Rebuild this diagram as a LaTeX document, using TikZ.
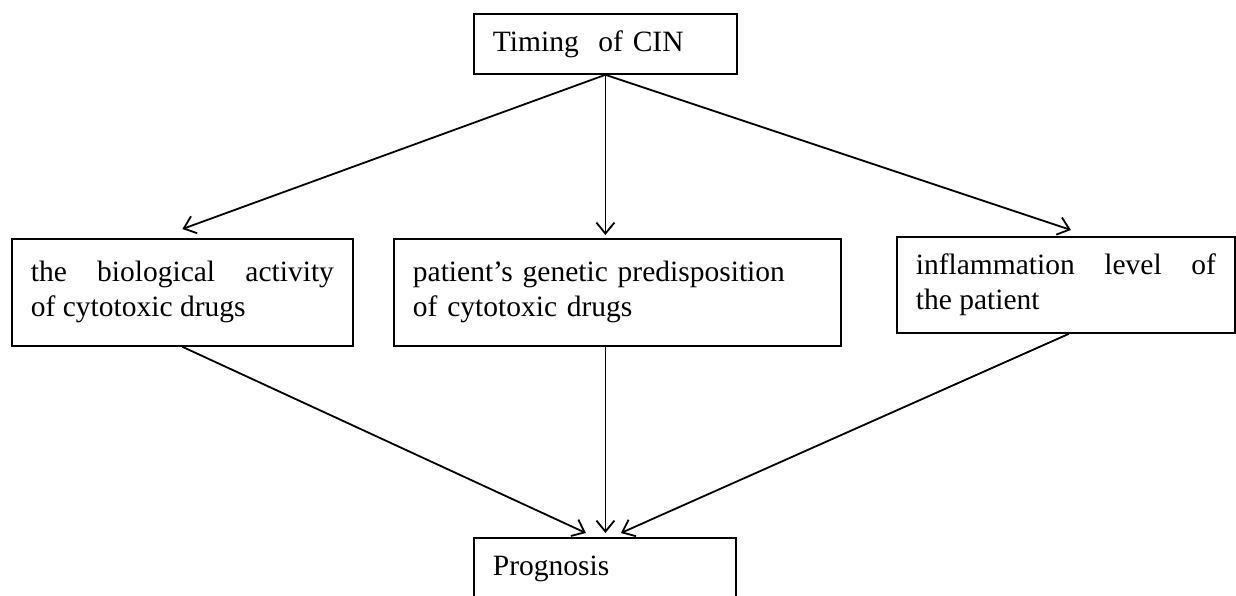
\documentclass[tikz,border=0pt]{standalone}
\usepackage{fontspec}
\setmainfont{Liberation Serif}
\usetikzlibrary{arrows.meta}
\tikzset{
  box/.style={draw,anchor=north west,inner xsep=19pt,inner ysep=0pt,font=\fontsize{29.5}{35}\selectfont},
  cause/.style={box,align=justify,minimum height=107pt}
}
\begin{document}
\begin{tikzpicture}[->,>={Straight Barb[length=11pt,width=18pt]},line width=1.8pt,x=1pt,y=-1pt]
  \clip (0,0) rectangle (1236,596);
  \node [box,align=left,text width=225pt,minimum height=60pt] (timing) at (473,13) {Timing\ \ of CIN};
  \node [cause,text width=303pt] (biology) at (11,238) {the biological activity\linebreak of cytotoxic drugs};
  \node [cause,align=left,text width=409pt] (genetic) at (393,238) {patient's genetic predisposition\\of cytotoxic drugs};
  \node [cause,text width=300pt,minimum height=96pt] (inflammation) at (896,236) {inflammation level of\linebreak the patient};
  \node [box,align=left,text width=224pt,minimum height=62pt] (prognosis) at (473,537) {Prognosis};

  \draw (timing.south) -- ([yshift=9pt]biology.north);
  \draw (timing.south) -- ([yshift=3pt]timing.south |- genetic.north);
  \draw (timing.south) -- ([xshift=5pt,yshift=6pt]inflammation.north);
%  into the prognosis box
  \draw (biology.south) -- ([xshift=-19pt,yshift=4pt]prognosis.north);
  \draw (timing.south |- genetic.south) -- ([yshift=4pt]timing.south |- prognosis.north);
  \draw ([xshift=3pt]inflammation.south) -- ([xshift=16pt,yshift=4pt]prognosis.north);
\end{tikzpicture}
\end{document}
